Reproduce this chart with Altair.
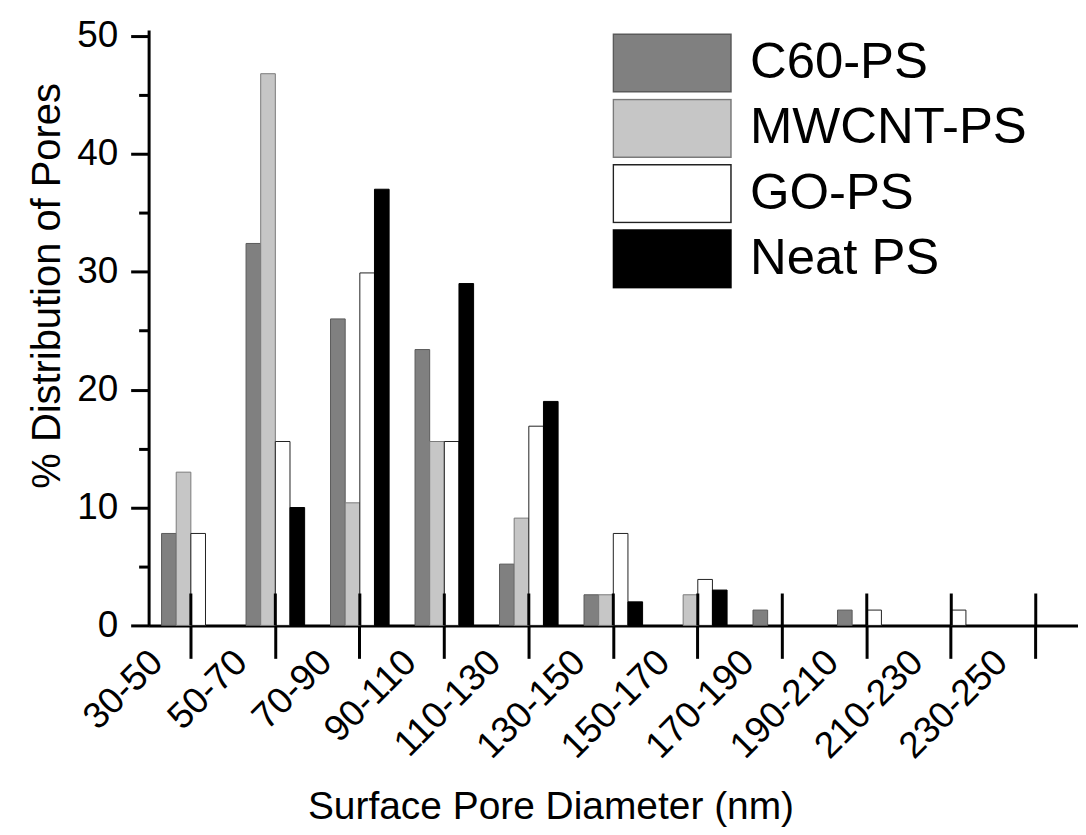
import altair as alt
import pandas as pd

ranges = ["30-50", "50-70", "70-90", "90-110", "110-130", "130-150",
          "150-170", "170-190", "190-210", "210-230", "230-250"]
series = ["C60-PS", "MWCNT-PS", "GO-PS", "Neat PS"]
c60 = [7.8, 32.4, 26.0, 23.4, 5.2, 2.6, 0.0, 1.3, 1.3, 0.0, 0.0]
mwcnt = [13.0, 46.8, 10.4, 15.6, 9.1, 2.6, 2.6, 0.0, 0.0, 0.0, 0.0]
go = [7.8, 15.6, 29.9, 15.6, 16.9, 7.8, 3.9, 0.0, 1.3, 1.3, 0.0]
neat = [0.0, 10.0, 37.0, 29.0, 19.0, 2.0, 3.0, 0.0, 0.0, 0.0, 0.0]

fills = ["#808080", "#c6c6c6", "#ffffff", "#000000"]
strokes = ["#5a5a5a", "#7a7a7a", "#222222", "#000000"]

rows = []
for name, vals in zip(series, [c60, mwcnt, go, neat]):
    for r, v in zip(ranges, vals):
        rows.append({"Range": r, "Series": name, "Value": v})
df = pd.DataFrame(rows)
ticks_df = pd.DataFrame({"Range": ranges})

FONT = "Liberation Sans"
W, H = 932, 597

xscale = alt.Scale(domain=ranges, paddingInner=0, paddingOuter=0)

legend_kw = dict(title=None, orient="none", legendX=465, legendY=3,
                 padding=0, symbolType="M-1,-0.49H1V0.49H-1Z",
                 symbolSize=13924, symbolStrokeWidth=1.5,
                 labelFont=FONT, labelFontSize=51, labelColor="black",
                 labelOffset=18, labelLimit=0, clipHeight=60, rowPadding=5.5)

bars = alt.Chart(df).transform_filter("datum.Value > 0").mark_bar(strokeWidth=1).encode(
    x=alt.X("Range:N", sort=ranges, scale=xscale,
            axis=alt.Axis(title="Surface Pore Diameter (nm)",
                          domainWidth=3, domainColor="black",
                          tickWidth=3, tickColor="black", tickSize=33,
                          labelAngle=-45, labelAlign="right", labelBaseline="middle",
                          labelFont=FONT, labelFontSize=37, labelColor="black",
                          labelOffset=-34, labelPadding=-2,
                          titleFont=FONT, titleFontSize=39, titleFontWeight="normal",
                          titleColor="black", titleX=403, titleY=194,
                          titleAlign="center", titleBaseline="alphabetic")),
    xOffset=alt.XOffset("Series:N", sort=series,
                        scale=alt.Scale(domain=series, paddingInner=0, paddingOuter=0.885)),
    y=alt.Y("Value:Q", scale=alt.Scale(domain=[0, 50.5], nice=False),
            axis=alt.Axis(title="% Distribution of Pores",
                          values=[0, 5, 10, 15, 20, 25, 30, 35, 40, 45, 50],
                          labelExpr="datum.value % 10 === 0 ? datum.label : ''",
                          tickSize={"condition": {"test": "datum.value % 10 === 0", "value": 18}, "value": 10},
                          domainWidth=3, domainColor="black",
                          tickWidth=3, tickColor="black",
                          labelFont=FONT, labelFontSize=37, labelColor="black",
                          labelPadding=13, grid=False,
                          titleFont=FONT, titleFontSize=40, titleFontWeight="normal",
                          titleColor="black", titleX=-89, titleY=256,
                          titleAlign="center", titleBaseline="alphabetic")),
    fill=alt.Fill("Series:N", sort=series,
                  scale=alt.Scale(domain=series, range=fills),
                  legend=alt.Legend(**legend_kw)),
    stroke=alt.Stroke("Series:N", sort=series,
                      scale=alt.Scale(domain=series, range=strokes),
                      legend=alt.Legend(**legend_kw)),
)

inner_ticks = alt.Chart(ticks_df).mark_rule(color="black", strokeWidth=3).encode(
    x=alt.X("Range:N", sort=ranges, scale=xscale),
    y=alt.value(H - 32),
    y2=alt.value(H),
)

chart = alt.layer(bars, inner_ticks).properties(
    width=W, height=H,
    autosize=alt.AutoSizeParams(type="none"),
    padding={"left": 141, "top": 21, "right": 0, "bottom": 201},
    background="white",
).configure_view(stroke=None)

chart.save("out.html", embed_options={"renderer": "svg", "actions": False})
